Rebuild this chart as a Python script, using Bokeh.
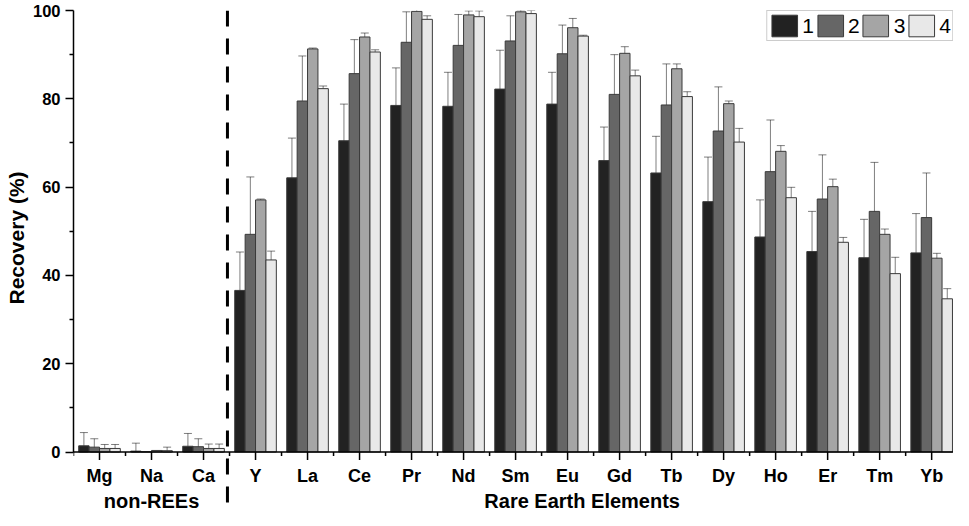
from bokeh.plotting import figure
from bokeh.models import Range1d, FixedTicker, Whisker, TeeHead, ColumnDataSource, Span, Title
from bokeh.core.properties import value
from bokeh.embed import file_html
from bokeh.resources import INLINE

# ---------------- data ----------------
categories = ["Mg", "Na", "Ca", "Y", "La", "Ce", "Pr", "Nd", "Sm", "Eu",
              "Gd", "Tb", "Dy", "Ho", "Er", "Tm", "Yb"]
n_non_ree = 3
group_labels = ["non-REEs", "Rare Earth Elements"]
series_names = ["1", "2", "3", "4"]

rec1 = [1.4, 0.2, 1.3, 36.6, 62.1, 70.5, 78.5, 78.3, 82.2, 78.8, 66.0, 63.2, 56.7, 48.7, 45.4, 44.0, 45.1]
err1 = [3.0, 1.8, 2.9, 8.7, 9.0, 8.3, 8.5, 7.7, 8.8, 7.2, 7.6, 8.3, 10.1, 8.4, 9.1, 8.7, 8.9]
rec2 = [1.1, 0.05, 1.2, 49.3, 79.5, 85.7, 92.8, 92.1, 93.1, 90.2, 81.0, 78.6, 72.7, 63.5, 57.3, 54.5, 53.1]
err2 = [1.9, 0.0, 1.8, 13.0, 10.2, 7.7, 6.9, 7.0, 5.7, 6.5, 9.0, 9.3, 10.0, 11.7, 10.0, 11.1, 10.1]
rec3 = [0.8, 0.35, 0.8, 57.1, 91.3, 94.0, 99.8, 99.0, 99.7, 96.1, 90.3, 86.8, 78.9, 68.1, 60.1, 49.3, 43.9]
err3 = [0.9, 0.0, 1.0, 0.2, 0.2, 0.9, 1.5, 0.9, 0.4, 2.1, 1.5, 1.1, 0.6, 1.3, 1.7, 1.2, 1.1]
rec4 = [0.8, 0.3, 0.8, 43.5, 82.3, 90.6, 98.0, 98.6, 99.3, 94.2, 85.2, 80.5, 70.2, 57.6, 47.5, 40.4, 34.7]
err4 = [0.9, 0.8, 1.0, 2.0, 0.6, 0.5, 0.8, 1.3, 0.7, 0.2, 1.3, 1.1, 3.1, 2.35, 1.1, 3.7, 2.3]

y_major_ticks = [0, 20, 40, 60, 80, 100]
y_minor_ticks = [10, 30, 50, 70, 90]

# ---------------- styling ----------------
FONT = "Liberation Sans"
fills = ["#222222", "#666666", "#a5a5a5", "#e8e8e8"]
offsets = [-0.3, -0.1, 0.1, 0.3]
bar_w = 0.2

n = len(categories)
xs = list(range(n))
H = 510
TOP = 10
zero_px = 441.5                      # pixels from frame top to y=0
px = 100.0 / zero_px                 # data units per pixel
y_hi = 100
y_lo = -(H - TOP - zero_px) * px

p = figure(width=953, height=H,
           x_range=Range1d(-0.5, n - 0.58), y_range=Range1d(y_lo, y_hi),
           output_backend="svg", toolbar_location=None, x_axis_location=None,
           min_border_top=TOP, min_border_bottom=0, min_border_right=0, min_border_left=71)
p.outline_line_color = None
p.grid.visible = False
p.background_fill_color = "white"

# y axis
ax = p.yaxis[0]
ax.bounds = (0, 100)
ax.ticker = FixedTicker(ticks=y_major_ticks, minor_ticks=y_minor_ticks)
ax.major_label_text_font = FONT
ax.major_label_text_font_style = "bold"
ax.major_label_text_font_size = "16.5px"
ax.major_label_text_color = "black"
ax.major_label_standoff = 5
ax.major_tick_out = 8
ax.major_tick_in = 0
ax.minor_tick_out = 4
ax.minor_tick_in = 0
ax.axis_line_color = "black"
ax.major_tick_line_color = "black"
ax.minor_tick_line_color = "black"
ax.axis_line_width = 1.5
ax.major_tick_line_width = 1.5
ax.minor_tick_line_width = 1.5

# y axis title, placed so that it is centred on the 0-100 span
p.add_layout(Title(text="Recovery (%)", align="left", offset=206,
                   text_font=FONT, text_font_style="bold", text_font_size="21px",
                   text_color="black", standoff=4), "left")

# bars + error bars
series = [(rec1, err1), (rec2, err2), (rec3, err3), (rec4, err4)]
for k, (vals, errs) in enumerate(series):
    bx = [i + offsets[k] for i in xs]
    p.vbar(x=bx, top=vals, bottom=0, width=bar_w, fill_color=fills[k],
           line_color="#3a3a3a", line_width=1, legend_label=series_names[k])
    keep = [j for j in range(n) if errs[j] > 0]
    src = ColumnDataSource(dict(
        base=[bx[j] for j in keep],
        upper=[vals[j] + errs[j] for j in keep],
        lower=[max(0.0, vals[j] - errs[j]) for j in keep],
    ))
    w = Whisker(source=src, base="base", upper="upper", lower="lower",
                line_color="black", line_alpha=0.5, line_width=1,
                upper_head=TeeHead(size=8, line_color="black", line_alpha=0.5, line_width=1),
                lower_head=TeeHead(size=8, line_color="black", line_alpha=0.5, line_width=1))
    p.add_layout(w)

# x axis drawn by hand so that group labels and separator can sit below it
p.segment(x0=[-0.5], y0=[0], x1=[n - 0.5], y1=[0], line_color="black", line_width=1.5)
p.segment(x0=xs, y0=[0] * n, x1=xs, y1=[-8 * px] * n, line_color="black", line_width=1.5)
bounds_x = [i - 0.5 for i in range(n + 1)]
p.segment(x0=bounds_x, y0=[0] * len(bounds_x), x1=bounds_x, y1=[-4 * px] * len(bounds_x),
          line_color="black", line_width=1.5)
p.text(x=xs, y=[-23.5 * px] * n, text=categories, text_font=value(FONT),
       text_font_style="bold", text_font_size="18px", text_align="center",
       text_baseline="alphabetic", text_color="black")
p.text(x=[(n_non_ree - 1) / 2, 9.28], y=[-48.5 * px] * 2, text=group_labels,
       text_font=value(FONT), text_font_style="bold", text_font_size="20px",
       text_align="center", text_baseline="alphabetic", text_color="black")

# separator between non-REEs and REEs
p.add_layout(Span(location=n_non_ree - 0.54, dimension="height", line_color="black",
                  line_width=3, line_dash="16 12"))

# legend
lg = p.legend[0]
lg.orientation = "horizontal"
lg.location = "top_right"
lg.glyph_width = 32
lg.glyph_height = 27
lg.label_standoff = 2
lg.spacing = 0
lg.padding = 1
lg.margin = 0
lg.label_width = 0
lg.label_height = 0
lg.border_line_color = "#9a9a9a"
lg.border_line_width = 1.5
lg.label_text_font = FONT
lg.label_text_font_size = "21px"
lg.label_text_color = "black"
lg.background_fill_color = "white"
lg.background_fill_alpha = 1.0

open("out.html", "w").write(file_html(p, INLINE))
